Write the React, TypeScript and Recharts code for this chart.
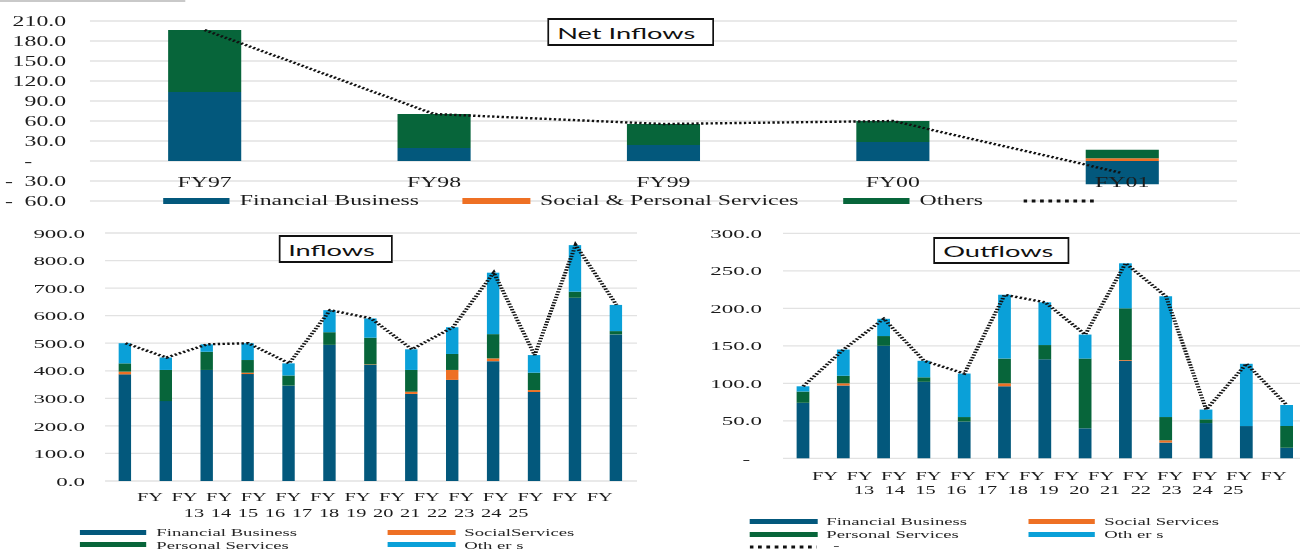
import { Bar, CartesianGrid, ComposedChart, Line, XAxis, YAxis } from "recharts";

// Everything is laid out on a narrower canvas and stretched sideways to fill 1300px.
const STRETCH = 1.7;
const CANVAS_W = 1300 / STRETCH;

const SERIF = '"Liberation Serif", "Times New Roman", serif';
const SANS = 'Lato, "Open Sans", sans-serif';
const INK = "#1c1c1c";

const BLUE = "#03587c";
const ORANGE = "#ee7024";
const GREEN = "#07653a";
const SKY = "#0aa0d8";
const GRID = "#e2e2e2";

// Net inflows, FY97 - FY01
const netYears = ["FY97", "FY98", "FY99", "FY00", "FY01"];
const netFinancial = [103.5, 19.5, 24, 28.5, -35];
const netSocialPersonal = [0, 0, 0, 0, 4];
const netOthers = [93, 51, 31.5, 31.5, 13];
const netTicks = [-60, -30, 0, 30, 60, 90, 120, 150, 180, 210];

// Inflows and outflows, FY13 - FY25
const flowYears = ["13", "14", "15", "16", "17", "18", "19", "20", "21", "22", "23", "24", "25"];
const flowTopRow = ["FY", "FY", "FY", "FY", "FY", "FY", "FY", "FY", "FY", "FY", "FY", "FY", "FY", "FY"];

const inFinancial = [387, 290, 403, 388, 346, 494, 421, 316, 367, 435, 323, 665, 532];
const inSocial = [10, 0, 0, 5, 0, 0, 2, 8, 36, 10, 7, 0, 0];
const inPersonal = [30, 113, 66, 46, 37, 46, 97, 79, 58, 88, 63, 22, 12];
const inOthers = [73, 45, 27, 61, 44, 80, 70, 75, 97, 223, 64, 169, 95];
const inflowTicks = [0, 100, 200, 300, 400, 500, 600, 700, 800, 900];

const outFinancial = [74, 97, 150, 102, 49, 96, 132, 40, 130, 21, 47, 43, 14];
const outSocial = [0, 3, 0, 0, 0, 4, 0, 0, 1, 3, 0, 0, 0];
const outPersonal = [15, 10, 13, 6, 6, 33, 19, 93, 69, 31, 5, 0, 29];
const outOthers = [7, 35, 23, 22, 58, 85, 57, 32, 60, 161, 13, 83, 28];
const outflowTicks = [0, 50, 100, 150, 200, 250, 300];

const netData = netYears.map((year, i) => ({
  year,
  financial: netFinancial[i],
  social: netSocialPersonal[i],
  others: netOthers[i],
  total: netFinancial[i] + netSocialPersonal[i] + netOthers[i],
}));

const makeFlowRows = (fin: number[], soc: number[], per: number[], oth: number[]) =>
  flowYears.map((yr, i) => ({
    year: `FY${yr}`,
    financial: fin[i],
    social: soc[i],
    personal: per[i],
    others: oth[i],
    total: fin[i] + soc[i] + per[i] + oth[i],
  }));

const inflowData = makeFlowRows(inFinancial, inSocial, inPersonal, inOthers);
const outflowData = makeFlowRows(outFinancial, outSocial, outPersonal, outOthers);

type TickProps = { x: number; y: number; payload: { value: number | string } };

const textBase = { fontFamily: SERIF, fill: INK };

// accounting style: "-" for zero, minus sign pushed to the left edge
function NetYTick({ x, y, payload }: TickProps) {
  const v = Number(payload.value);
  const common = { ...textBase, y, fontSize: 14, dominantBaseline: "central" as const };
  if (v === 0) return <text {...common} x={x - 34} textAnchor="end">-</text>;
  return (
    <g>
      {v < 0 && <text {...common} x={x - 50} textAnchor="start">-</text>}
      <text {...common} x={x - 14} textAnchor="end">{Math.abs(v).toFixed(1)}</text>
    </g>
  );
}

// category names sit just under the zero line, not at the bottom of the plot
function NetXTick({ x, y, payload }: TickProps) {
  return (
    <text {...textBase} x={x} y={y - 14} fontSize={14} textAnchor="middle">
      {payload.value}
    </text>
  );
}

function DottedKey({ width }: { width: number }) {
  return (
    <svg width={width} height={4} style={{ display: "block" }}>
      <line x1={0} y1={2} x2={width} y2={2} stroke="#111" strokeWidth={3} strokeDasharray="2.2 2.7" />
    </svg>
  );
}

function TitleBox({ text, left, top, width, height }: { text: string; left: number; top: number; width: number; height: number }) {
  return (
    <div
      style={{
        position: "absolute",
        left,
        top,
        width,
        height,
        boxSizing: "border-box",
        border: "2px solid #111",
        borderLeftWidth: 1.3,
        borderRightWidth: 1.3,
        background: "#fff",
        fontFamily: SANS,
        fontSize: 16,
        color: "#111",
        paddingLeft: 5,
        display: "flex",
        alignItems: "center",
        whiteSpace: "nowrap",
      }}
    >
      {text}
    </div>
  );
}

function NetInflows() {
  const plotRight = 727.6;
  return (
    <div style={{ position: "absolute", left: 0, top: 0 }}>
      <ComposedChart
        width={CANVAS_W}
        height={215}
        data={netData}
        stackOffset="sign"
        margin={{ top: 21, right: CANVAS_W - plotRight, bottom: 13, left: 0 }}
      >
        <CartesianGrid vertical={false} stroke={GRID} strokeWidth={1.3} />
        <YAxis
          type="number"
          domain={[-60, 210]}
          ticks={netTicks}
          interval={0}
          width={52.9}
          axisLine={false}
          tickLine={false}
          tickSize={0}
          tickMargin={0}
          tick={(p: TickProps) => <NetYTick {...p} />}
        />
        <Bar dataKey="financial" stackId="net" fill={BLUE} barSize={43} isAnimationActive={false} />
        <Bar dataKey="social" stackId="net" fill={ORANGE} barSize={43} isAnimationActive={false} />
        <Bar dataKey="others" stackId="net" fill={GREEN} barSize={43} isAnimationActive={false} />
        <Line
          type="linear"
          dataKey="total"
          stroke="#111"
          strokeWidth={2.4}
          strokeDasharray="1.4 1.4"
          dot={false}
          activeDot={false}
          isAnimationActive={false}
        />
        <XAxis
          dataKey="year"
          height={1}
          interval={0}
          axisLine={false}
          tickLine={false}
          tickSize={0}
          tickMargin={0}
          tick={(p: TickProps) => <NetXTick {...p} />}
        />
      </ComposedChart>
      <div
        style={{
          position: "absolute",
          left: 95.9,
          top: 194,
          height: 14,
          display: "flex",
          alignItems: "center",
          fontFamily: SERIF,
          fontSize: 14,
          lineHeight: "14px",
          color: INK,
          whiteSpace: "nowrap",
        }}
      >
        <span style={{ width: 39.4, height: 6, background: BLUE, marginRight: 5.8 }} />
        <span style={{ marginRight: 26 }}>Financial Business</span>
        <span style={{ width: 39.4, height: 6, background: ORANGE, marginRight: 5.8 }} />
        <span style={{ marginRight: 26 }}>Social &amp; Personal Services</span>
        <span style={{ width: 39.4, height: 6, background: GREEN, marginRight: 5.8 }} />
        <span style={{ marginRight: 23.5 }}>Others</span>
        <DottedKey width={42} />
      </div>
      <TitleBox text="Net Inflows" left={321.8} top={18} width={98.2} height={28} />
    </div>
  );
}

type LabelRow = { words: string[]; start: number; step: number; dy: number };

type FlowLayout = {
  left: number;
  top: number;
  width: number;
  height: number;
  margin: { top: number; right: number; bottom: number; left: number };
  axisWidth: number;
  labelGap: number;
  zeroDash?: number;
  barSize: number;
  rows: LabelRow[];
};

type LegendEntry = { label: string; color?: string; dotted?: boolean; left: number; cy: number };

function FlowYTick({ x, y, payload, layout }: TickProps & { layout: FlowLayout }) {
  const v = Number(payload.value);
  const isDash = v === 0 && layout.zeroDash !== undefined;
  return (
    <text
      {...textBase}
      x={x - (isDash ? layout.zeroDash! : layout.labelGap)}
      y={y}
      fontSize={13.5}
      textAnchor="end"
      dominantBaseline="central"
    >
      {isDash ? "-" : v.toFixed(1)}
    </text>
  );
}

// Wrapped category captions under the plot: a row of "FY" and a row of years.
// Drawn once, from the first tick, relative to the plot's left edge.
function YearRowsTick({ index, y, plotLeft, rows }: { index: number; y: number; plotLeft: number; rows: LabelRow[] }) {
  if (index !== 0) return <g />;
  return (
    <g>
      {rows.map((row, r) =>
        row.words.map((w, i) => (
          <text
            key={`${r}-${i}`}
            {...textBase}
            x={plotLeft + row.start + i * row.step}
            y={y + row.dy}
            fontSize={12}
            textAnchor="middle"
          >
            {w}
          </text>
        )),
      )}
    </g>
  );
}

function FlowChart({
  title,
  titleBox,
  data,
  ticks,
  layout,
  legend,
}: {
  title: string;
  titleBox: { left: number; top: number; width: number; height: number };
  data: ReturnType<typeof makeFlowRows>;
  ticks: number[];
  layout: FlowLayout;
  legend: LegendEntry[];
}) {
  const plotLeft = layout.margin.left + layout.axisWidth;
  return (
    <>
      <div style={{ position: "absolute", left: layout.left, top: layout.top }}>
        <ComposedChart width={layout.width} height={layout.height} data={data} margin={layout.margin}>
          <CartesianGrid vertical={false} stroke={GRID} strokeWidth={1.3} />
          <YAxis
            type="number"
            domain={[ticks[0], ticks[ticks.length - 1]]}
            ticks={ticks}
            interval={0}
            width={layout.axisWidth}
            axisLine={false}
            tickLine={false}
            tickSize={0}
            tickMargin={0}
            tick={(p: TickProps) => <FlowYTick {...p} layout={layout} />}
          />
          <Bar dataKey="financial" stackId="flow" fill={BLUE} barSize={layout.barSize} isAnimationActive={false} />
          <Bar dataKey="social" stackId="flow" fill={ORANGE} barSize={layout.barSize} isAnimationActive={false} />
          <Bar dataKey="personal" stackId="flow" fill={GREEN} barSize={layout.barSize} isAnimationActive={false} />
          <Bar dataKey="others" stackId="flow" fill={SKY} barSize={layout.barSize} isAnimationActive={false} />
          <Line
            type="linear"
            dataKey="total"
            stroke="#111"
            strokeWidth={2.4}
            strokeDasharray="1.4 1.4"
            dot={false}
            activeDot={false}
            isAnimationActive={false}
          />
          <XAxis
            dataKey="year"
            height={1}
            interval={0}
            axisLine={false}
            tickLine={false}
            tickSize={0}
            tickMargin={0}
            tick={(p: TickProps & { index: number }) => (
              <YearRowsTick index={p.index} y={p.y} plotLeft={plotLeft} rows={layout.rows} />
            )}
          />
        </ComposedChart>
      </div>
      <TitleBox text={title} {...titleBox} />
      {legend.map((item) => (
        <div
          key={item.label}
          style={{
            position: "absolute",
            left: item.left,
            top: item.cy - 6,
            height: 12,
            display: "flex",
            alignItems: "center",
            gap: 5.5,
            fontFamily: SERIF,
            fontSize: 11,
            lineHeight: "12px",
            color: "#262626",
            whiteSpace: "pre",
          }}
        >
          {item.dotted ? (
            <DottedKey width={39.4} />
          ) : (
            <span style={{ width: 39.4, height: 5, background: item.color }} />
          )}
          <span style={item.dotted ? { marginLeft: 4, marginTop: -5 } : undefined}>{item.label}</span>
        </div>
      ))}
    </>
  );
}

const inflowLayout: FlowLayout = {
  left: 0,
  top: 220,
  width: 390,
  height: 332,
  margin: { top: 13, right: 15.3, bottom: 70, left: 0 },
  axisWidth: 61.8,
  labelGap: 11.8,
  barSize: 7.3,
  rows: [
    { words: flowTopRow, start: 26.4, step: 20.35, dy: 20 },
    { words: flowYears, start: 52.3, step: 15.9, dy: 36 },
  ],
};

const outflowLayout: FlowLayout = {
  left: 400,
  top: 220,
  width: 368.8,
  height: 332,
  margin: { top: 13.3, right: 0, bottom: 92.7, left: 0 },
  axisWidth: 60.6,
  labelGap: 12.4,
  zeroDash: 19.4,
  barSize: 7.5,
  rows: [
    { words: flowTopRow, start: 24.7, step: 20.3, dy: 22 },
    { words: flowYears, start: 47.6, step: 18.1, dy: 35.7 },
  ],
};

const inflowLegend: LegendEntry[] = [
  { label: "Financial Business", color: BLUE, left: 47.1, cy: 532 },
  { label: "Personal Services", color: GREEN, left: 47.1, cy: 544.5 },
  { label: "SocialServices", color: ORANGE, left: 228.2, cy: 532 },
  { label: "Oth er s", color: SKY, left: 228.2, cy: 544.5 },
];

const outflowLegend: LegendEntry[] = [
  { label: "Financial Business", color: BLUE, left: 441.2, cy: 521 },
  { label: "Personal Services", color: GREEN, left: 441.2, cy: 534 },
  { label: "-", dotted: true, left: 441.2, cy: 547 },
  { label: "Social Services", color: ORANGE, left: 604.7, cy: 521 },
  { label: "Oth er s", color: SKY, left: 604.7, cy: 534 },
];

export default function App() {
  return (
    <div style={{ position: "absolute", left: 0, top: 0, width: 1300, height: 552, overflow: "hidden", background: "#fff" }}>
      <div
        style={{
          position: "absolute",
          left: 0,
          top: 0,
          width: CANVAS_W,
          height: 552,
          transform: `scaleX(${STRETCH})`,
          transformOrigin: "0 0",
        }}
      >
        <div style={{ position: "absolute", left: 0, top: 0, width: 108.8, height: 2, background: "#c9c9c9" }} />
        <NetInflows />
        <FlowChart
          title="Inflows"
          titleBox={{ left: 163.5, top: 235, width: 67.6, height: 28 }}
          data={inflowData}
          ticks={inflowTicks}
          layout={inflowLayout}
          legend={inflowLegend}
        />
        <FlowChart
          title="Outflows"
          titleBox={{ left: 548.8, top: 237, width: 80.6, height: 27 }}
          data={outflowData}
          ticks={outflowTicks}
          layout={outflowLayout}
          legend={outflowLegend}
        />
      </div>
    </div>
  );
}
